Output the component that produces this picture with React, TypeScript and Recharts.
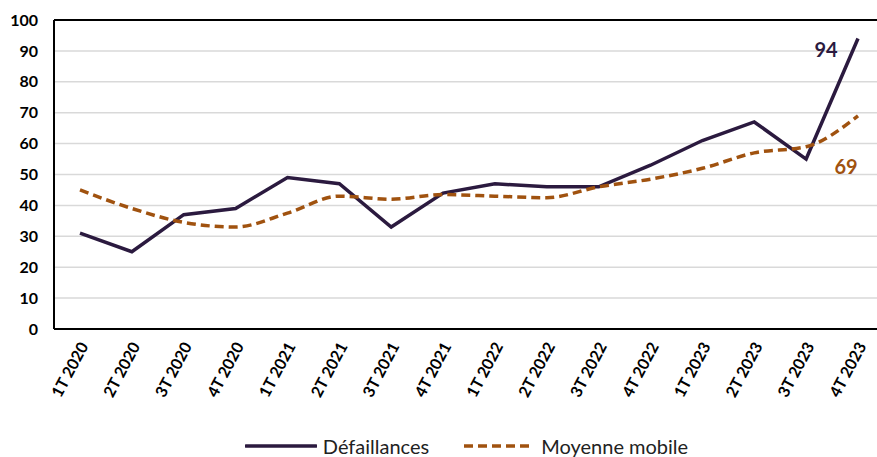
import React from "react";
import { LineChart, Line, XAxis, YAxis, CartesianGrid, Legend, ReferenceLine, LabelList } from "recharts";

const categories = ["1T 2020","2T 2020","3T 2020","4T 2020","1T 2021","2T 2021","3T 2021","4T 2021","1T 2022","2T 2022","3T 2022","4T 2022","1T 2023","2T 2023","3T 2023","4T 2023"];
const defaillances = [31, 25, 37, 39, 49, 47, 33, 44, 47, 46, 46, 53, 61, 67, 55, 94];
const moyenneMobile = [45, 39, 34.5, 33, 37.5, 43, 42, 43.5, 43, 42.5, 46, 48.5, 52, 57, 59, 69];
const yTicks = [0, 10, 20, 30, 40, 50, 60, 70, 80, 90, 100];

const data = categories.map((c, i) => ({ cat: c, def: defaillances[i], mm: moyenneMobile[i] }));

const PURPLE = "#2B1A3F";
const BROWN = "#A0520F";
const FONT = "Lato, 'Open Sans', sans-serif";

const XTick = (props: any) => {
  const { x, y, payload } = props;
  return (
    <g transform={`translate(${x + 3},${y + 6})`}>
      <text transform="rotate(-62)" textAnchor="end" dominantBaseline="central" fontSize={16} fontWeight={700} fill="#000" fontFamily={FONT}>
        {payload.value}
      </text>
    </g>
  );
};

const lastLabel = (color: string, dx: number, dy: number) => (props: any) => {
  const { x, y, index, value } = props;
  if (index !== categories.length - 1) return null;
  return (
    <text x={x + dx} y={y + dy} textAnchor="middle" dominantBaseline="central" fontSize={20} fontWeight={700} fill={color} fontFamily={FONT}>
      {value}
    </text>
  );
};

const LegendContent = () => (
  <div style={{ display: "flex", justifyContent: "center", alignItems: "center", fontFamily: FONT, fontSize: 20, color: "#222", paddingLeft: 56 }}>
    <svg width={72} height={10} style={{ marginRight: 6 }}>
      <line x1={1} y1={5} x2={71} y2={5} stroke={PURPLE} strokeWidth={3.5} strokeLinecap="round" />
    </svg>
    <span style={{ marginRight: 34 }}>Défaillances</span>
    <svg width={72} height={10} style={{ marginRight: 6 }}>
      <line x1={1} y1={5} x2={71} y2={5} stroke={BROWN} strokeWidth={3.5} strokeDasharray="9 5" />
    </svg>
    <span>Moyenne mobile</span>
  </div>
);

export default function App() {
  return (
    <div style={{ position: "absolute", left: 0, top: 0, width: 877, height: 457, overflow: "hidden", background: "#fff" }}>
      <LineChart width={886} height={457} data={data} margin={{ top: 20, right: 2, left: 0, bottom: 48 }}>
        <CartesianGrid vertical={false} stroke="#d9d9d9" strokeWidth={1.5} />
        <XAxis dataKey="cat" tick={<XTick />} tickLine={false} axisLine={{ stroke: "#000", strokeWidth: 2 }} height={80} interval={0} padding={{ left: 26, right: 26 }} />
        <YAxis domain={[0, 100]} ticks={yTicks} width={54} tickLine={false} tickMargin={10} axisLine={{ stroke: "#000", strokeWidth: 2 }} tick={{ fontSize: 16, fontWeight: 700, fill: "#000", fontFamily: FONT }} />
        <ReferenceLine y={100} stroke="#000" strokeWidth={2} />
        <Legend verticalAlign="middle" align="center" content={<LegendContent />} wrapperStyle={{ top: 434, left: 0, width: 877 }} />
        <Line dataKey="def" name="Défaillances" stroke={PURPLE} strokeWidth={3.5} dot={false} isAnimationActive={false} strokeLinejoin="miter">
          <LabelList dataKey="def" content={lastLabel(PURPLE, -32, 10)} />
        </Line>
        <Line dataKey="mm" name="Moyenne mobile" type="monotone" stroke={BROWN} strokeWidth={3.5} strokeDasharray="9 5" dot={false} isAnimationActive={false}>
          <LabelList dataKey="mm" content={lastLabel(BROWN, -12, 50)} />
        </Line>
      </LineChart>
    </div>
  );
}
